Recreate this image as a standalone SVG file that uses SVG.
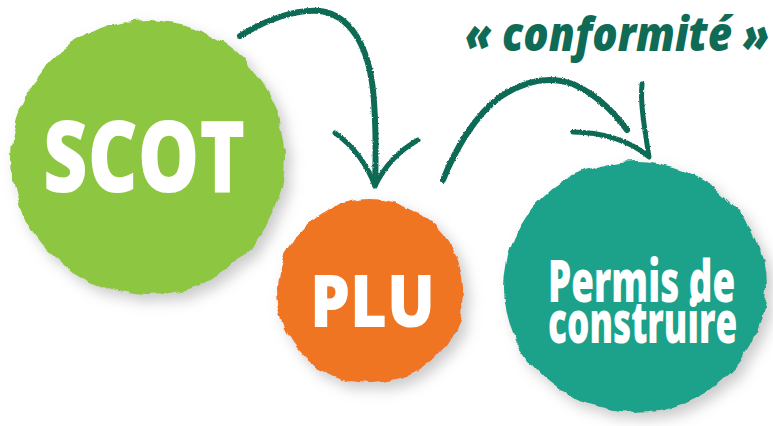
<svg xmlns="http://www.w3.org/2000/svg" width="773" height="426" viewBox="0 0 773 426">
  <defs>
    <filter id="rough" x="-15%" y="-15%" width="135%" height="135%">
      <feTurbulence type="fractalNoise" baseFrequency="0.045" numOctaves="3" seed="4" result="n"/>
      <feDisplacementMap in="SourceGraphic" in2="n" scale="9" xChannelSelector="R" yChannelSelector="G" result="d"/>
      <feGaussianBlur in="d" stdDeviation="7" result="b0"/>
      <feComponentTransfer in="b0" result="b">
        <feFuncR type="linear" slope="0" intercept="0.35"/>
        <feFuncG type="linear" slope="0" intercept="0.35"/>
        <feFuncB type="linear" slope="0" intercept="0.35"/>
        <feFuncA type="linear" slope="0.55"/>
      </feComponentTransfer>
      <feOffset in="b" dx="6" dy="7" result="s"/>
      <feMerge>
        <feMergeNode in="s"/>
        <feMergeNode in="d"/>
      </feMerge>
    </filter>
    <filter id="chalk" x="-10%" y="-10%" width="120%" height="120%">
      <feTurbulence type="fractalNoise" baseFrequency="0.6" numOctaves="2" seed="2" result="n"/>
      <feDisplacementMap in="SourceGraphic" in2="n" scale="2.5" xChannelSelector="R" yChannelSelector="G"/>
    </filter>
    <style>
      .lbl { font-family: "Open Sans", "Liberation Sans", sans-serif; font-weight: 800; fill: #ffffff; }
      .arrow { fill: none; stroke: #0f6b55; stroke-linecap: round; stroke-linejoin: round; }
      .title { font-family: "Open Sans", "Liberation Sans", sans-serif; font-weight: 800; font-style: italic; fill: #0f6b55; }
    </style>
  </defs>
  <rect width="773" height="426" fill="#ffffff"/>

  <g id="connectors" filter="url(#chalk)">
    <path class="arrow" stroke-width="6" d="M240,36 C265,20 295,9 320,11 C350,15 368,45 373,90 C376,120 376,155 375,185"/>
    <path class="arrow" stroke-width="5" d="M335,133 C352,145 366,162 375,186 C385,165 400,150 418,140"/>
    <path class="arrow" stroke-width="6" d="M443,180 C455,150 475,115 500,97 C525,80 550,76 573,84 C595,94 614,112 627,130"/>
    <path class="arrow" stroke-width="5" d="M573,132 C600,132 630,140 649,157 C645,130 640,105 642,84"/>
  </g>

  <g id="conformite">
    <text class="title" transform="translate(465,51) scale(0.82,1)" x="0" y="0" font-size="47" textLength="371" lengthAdjust="spacingAndGlyphs">« conformité »</text>
  </g>

  <g id="scot">
    <ellipse cx="148" cy="157" rx="137" ry="137" fill="#8dc63f" filter="url(#rough)"/>
    <text class="lbl" transform="translate(43,192) scale(0.815,1)" x="0" y="0" font-size="99" textLength="248" lengthAdjust="spacingAndGlyphs">SCOT</text>
  </g>

  <g id="plu">
    <ellipse cx="370" cy="291" rx="93" ry="92" fill="#f07522" filter="url(#rough)"/>
    <text class="lbl" transform="translate(310,327) scale(0.9,1)" x="0" y="0" font-size="73" textLength="139" lengthAdjust="spacingAndGlyphs">PLU</text>
  </g>

  <g id="permis">
    <ellipse cx="635" cy="287" rx="131" ry="126" fill="#1fa28b" filter="url(#rough)"/>
    <text class="lbl" transform="translate(548,302) scale(0.65,1)" x="0" y="0" font-size="58" textLength="288" lengthAdjust="spacingAndGlyphs">Permis de</text>
    <text class="lbl" transform="translate(548,343) scale(0.65,1)" x="0" y="0" font-size="58" textLength="291" lengthAdjust="spacingAndGlyphs">construire</text>
  </g>
</svg>
